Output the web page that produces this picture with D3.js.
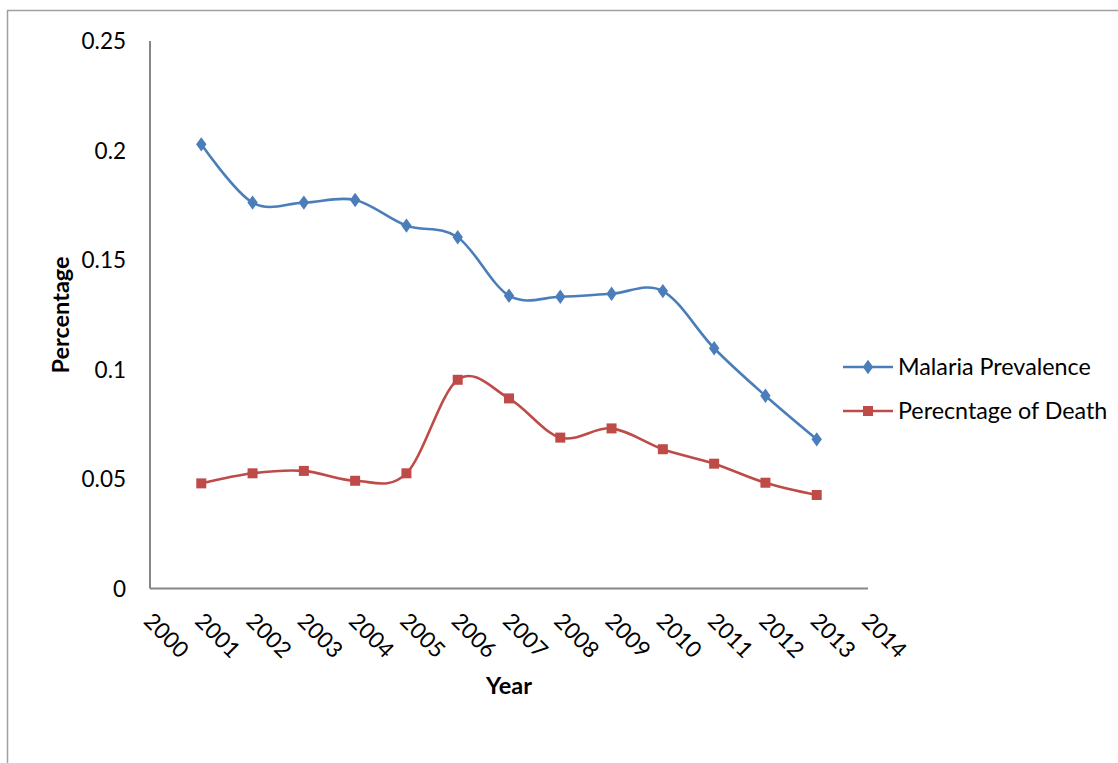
<!DOCTYPE html>
<html>
<head>
<meta charset="utf-8">
<script src="https://cdn.jsdelivr.net/npm/d3@7"></script>
<style>
  html, body { margin: 0; padding: 0; background: #fff; }
  svg { display: block; }
  text { font-family: Lato, "Open Sans", sans-serif; fill: #000; }
</style>
</head>
<body>
<svg id="chart" width="1118" height="763"></svg>
<script>
const years = [2001, 2002, 2003, 2004, 2005, 2006, 2007, 2008, 2009, 2010, 2011, 2012, 2013];
const malariaPrevalence = [0.2028, 0.1762, 0.1762, 0.1774, 0.1657, 0.1604, 0.1337, 0.1332, 0.1346, 0.1358, 0.1097, 0.0880, 0.0681];
const percentageOfDeath = [0.0480, 0.0526, 0.0537, 0.0492, 0.0526, 0.0953, 0.0868, 0.0689, 0.0731, 0.0636, 0.0570, 0.0483, 0.0427];
const xTicks = [2000, 2001, 2002, 2003, 2004, 2005, 2006, 2007, 2008, 2009, 2010, 2011, 2012, 2013, 2014];
const yTicks = [0, 0.05, 0.1, 0.15, 0.2, 0.25];
const yTickLabels = ["0", "0.05", "0.1", "0.15", "0.2", "0.25"];
const seriesNames = ["Malaria Prevalence", "Perecntage of Death"];

const svg = d3.select("#chart");
const axisColor = "#868686";
const colors = ["#4A7EBB", "#BE4B48"];

// outer chart border
svg.append("rect")
  .attr("x", 7.5).attr("y", 10.5)
  .attr("width", 1118).attr("height", 763)
  .attr("fill", "none").attr("stroke", "#a0a0a0").attr("stroke-width", 1.5);

const x = d3.scaleLinear().domain([2000, 2014]).range([150, 868]);
const y = d3.scaleLinear().domain([0, 0.25]).range([588.5, 41]);

// axes lines
svg.append("line").attr("x1", x(2000)).attr("x2", x(2000)).attr("y1", y(0.25)).attr("y2", y(0))
  .attr("stroke", axisColor).attr("stroke-width", 2);
svg.append("line").attr("x1", x(2000)).attr("x2", x(2014)).attr("y1", y(0)).attr("y2", y(0))
  .attr("stroke", axisColor).attr("stroke-width", 2);

// y tick labels
svg.append("g").selectAll("text").data(yTicks).join("text")
  .attr("x", 126).attr("y", d => y(d)).attr("dy", "0.36em")
  .attr("text-anchor", "end").style("font-size", "22.5px")
  .text((d, i) => yTickLabels[i]);

// x tick labels rotated
svg.append("g").selectAll("text").data(xTicks).join("text")
  .attr("transform", d => `translate(${x(d) - 2},617) rotate(45)`)
  .attr("dy", "0.35em")
  .attr("text-anchor", "start").style("font-size", "22.5px")
  .text(d => d);

// axis titles
svg.append("text").attr("x", 509).attr("y", 694).attr("text-anchor", "middle")
  .style("font-size", "23.5px").style("font-weight", "bold").text("Year");
svg.append("text").attr("transform", "translate(69,315) rotate(-90)").attr("text-anchor", "middle")
  .style("font-size", "23.5px").style("font-weight", "bold").text("Percentage");

const line = d3.line().x((d, i) => x(years[i])).y(d => y(d)).curve(d3.curveCardinal.tension(0));

const diamond = d3.symbol().type(d3.symbolDiamond).size(60);
const allSeries = [malariaPrevalence, percentageOfDeath];

allSeries.forEach((vals, s) => {
  svg.append("path").attr("d", line(vals)).attr("fill", "none")
    .attr("stroke", colors[s]).attr("stroke-width", 2.6);
  const g = svg.append("g");
  if (s === 0) {
    g.selectAll("path").data(vals).join("path")
      .attr("transform", (d, i) => `translate(${x(years[i])},${y(d)}) scale(1.25,1)`)
      .attr("d", diamond()).attr("fill", colors[s]);
  } else {
    g.selectAll("rect").data(vals).join("rect")
      .attr("x", (d, i) => x(years[i]) - 5).attr("y", d => y(d) - 5)
      .attr("width", 10).attr("height", 10).attr("fill", colors[s]);
  }
});

// legend
const legendY = [367, 411];
seriesNames.forEach((name, s) => {
  const ly = legendY[s];
  svg.append("line").attr("x1", 843).attr("x2", 893).attr("y1", ly).attr("y2", ly)
    .attr("stroke", colors[s]).attr("stroke-width", 2.6);
  if (s === 0) {
    svg.append("path").attr("transform", `translate(868,${ly}) scale(1.25,1)`).attr("d", diamond()).attr("fill", colors[s]);
  } else {
    svg.append("rect").attr("x", 863).attr("y", ly - 5).attr("width", 10).attr("height", 10).attr("fill", colors[s]);
  }
  svg.append("text").attr("x", 898).attr("y", ly).attr("dy", "0.36em")
    .style("font-size", "23.3px").text(name);
});
</script>
</body>
</html>
